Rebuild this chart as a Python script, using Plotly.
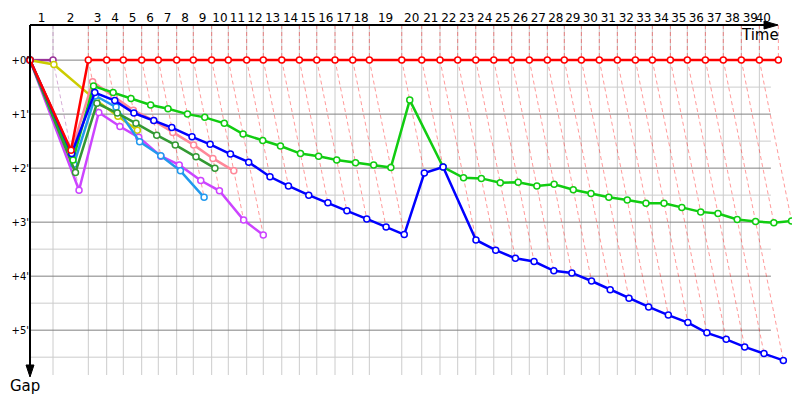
import plotly.graph_objects as go

# elapsed time (min) of the leader at the end of each lap, lap 0 .. 40
leader_time = [0, 2.13, 5.40, 7.10, 8.64, 10.34, 11.88, 13.58, 15.12, 16.82, 18.36,
               20.06, 21.60, 23.31, 24.94, 26.55, 28.24, 29.88, 31.42, 34.42, 36.27,
               37.96, 39.60, 41.27, 42.94, 44.60, 46.23, 47.90, 49.47, 51.05, 52.71,
               54.38, 56.05, 57.62, 59.29, 60.86, 62.53, 64.19, 65.86, 67.53, 69.29]
lap_labels = [str(i) for i in range(1, 41)]

# gap to the leader (min) at the end of each lap, starting at lap 0
gap_red = [0, 1.67] + [0] * 39
gap_purple = [0, 0]
gap_yellow = [0, 0.08, 0.75, 1.04, 1.30]
gap_magenta = [0, 2.41, 0.97, 1.23, 1.43, 1.78, 1.94, 2.23, 2.42, 2.96, 3.24]
gap_lightblue = [0, 1.93, 0.66, 0.87, 1.51, 1.77, 2.05, 2.54]
gap_darkgreen = [0, 2.08, 0.80, 0.98, 1.17, 1.39, 1.57, 1.79, 2.00]
gap_pink = [0, 1.70, 0.40, 0.68, 0.93, 1.12, 1.34, 1.57, 1.82, 2.05]
gap_green = [0, 1.85, 0.48, 0.60, 0.71, 0.83, 0.90, 1.00, 1.06, 1.17, 1.37,
             1.49, 1.59, 1.73, 1.78, 1.85, 1.90, 1.94, 1.99, 0.74, 1.98,
             2.18, 2.19, 2.27, 2.26, 2.33, 2.30, 2.40, 2.47, 2.54, 2.59,
             2.65, 2.65, 2.73, 2.81, 2.84, 2.95, 2.99, 3.01, 2.98]
gap_blue = [0, 1.73, 0.60, 0.75, 0.98, 1.12, 1.25, 1.42, 1.56, 1.74, 1.89,
            2.16, 2.33, 2.50, 2.64, 2.79, 2.94, 3.09, 3.23, 2.09, 1.98,
            3.33, 3.52, 3.67, 3.73, 3.90, 3.94, 4.09, 4.25, 4.41, 4.57,
            4.72, 4.86, 5.05, 5.17, 5.31, 5.43, 5.56]

gap_ticks = [0, 1, 2, 3, 4, 5]
gap_tick_text = ["+0'", "+1'", "+2'", "+3'", "+4'", "+5'"]

series = [
    (gap_purple, "#993399"),
    (gap_yellow, "#cccc00"),
    (gap_magenta, "#cc44ff"),
    (gap_lightblue, "#2299ee"),
    (gap_darkgreen, "#339933"),
    (gap_pink, "#ff8899"),
    (gap_green, "#11cc11"),
    (gap_blue, "#0000ff"),
    (gap_red, "#ff0000"),
]

Y_TOP, Y_BOT = -0.65, 5.83
X_MAX = 70.83
GRID_END = 68.6


def faded(hex_color, a=0.4):
    h = hex_color.lstrip("#")
    r, g, b = int(h[0:2], 16), int(h[2:4], 16), int(h[4:6], 16)
    return f"rgba({r},{g},{b},{a})"


fig = go.Figure()

# lap lines: vertical above the leader, then through every rider crossing that lap
lap_lines = {}
for n in range(1, len(leader_time)):
    done = [(g, c) for g, c in series if len(g) > n]
    lead_color = next(c for g, c in done if g[n] == 0)
    gmax = max(g[n] for g, c in done)
    xs, ys = lap_lines.setdefault(lead_color, ([], []))
    xs += [leader_time[n], leader_time[n], leader_time[n] + gmax, None]
    ys += [Y_TOP, 0, gmax, None]

for color, (xs, ys) in lap_lines.items():
    fig.add_trace(go.Scatter(x=xs, y=ys, mode="lines", hoverinfo="skip",
                             line=dict(color=faded(color), width=1, dash="4px,3px")))

for gaps, color in series:
    xs = [leader_time[i] + g for i, g in enumerate(gaps)]
    fig.add_trace(go.Scatter(
        x=xs, y=gaps, mode="lines+markers",
        line=dict(color=color, width=2.5),
        marker=dict(symbol="circle", size=6, color="white",
                    line=dict(color=color, width=1.5)),
        cliponaxis=False,
    ))

shapes = []
for t in leader_time[1:]:
    if t < GRID_END:
        shapes.append(dict(type="line", xref="x", yref="y", x0=t, x1=t, y0=Y_TOP, y1=Y_BOT,
                           line=dict(color="#cccccc", width=1), layer="below"))
for k in range(12):
    v = k * 0.5
    shapes.append(dict(type="line", xref="x", yref="y", x0=0, x1=GRID_END, y0=v, y1=v,
                       line=dict(color="#808080" if k % 2 == 0 else "#cccccc", width=1),
                       layer="below"))

# axes with arrows (paper coords, plot area is 765 x 350 px)
shapes += [
    dict(type="line", xref="paper", yref="paper", x0=0, x1=0.962, y0=1, y1=1,
         line=dict(color="black", width=2)),
    dict(type="path", xref="paper", yref="paper",
         path="M 0.9595,1.0114 L 0.9778,1 L 0.9595,0.9886 Z",
         fillcolor="black", line=dict(color="black", width=1)),
    dict(type="line", xref="paper", yref="paper", x0=0, x1=0, y0=1, y1=0.027,
         line=dict(color="black", width=2)),
    dict(type="path", xref="paper", yref="paper",
         path="M -0.0052,0.0286 L 0,-0.0057 L 0.0052,0.0286 Z",
         fillcolor="black", line=dict(color="black", width=1)),
]

label_pos = [(leader_time[i] + leader_time[i + 1]) / 2 for i in range(len(leader_time) - 1)]
label_pos[-1] = min(label_pos[-1], GRID_END - 0.7)

# page body keeps an 8px margin, so the figure is 792x392 and shifted margins
fig.update_layout(
    width=792, height=392,
    margin=dict(l=22, r=5, t=17, b=25, autoexpand=False),
    plot_bgcolor="white", paper_bgcolor="white",
    showlegend=False,
    shapes=shapes,
    font=dict(family="DejaVu Sans", color="black"),
    xaxis=dict(range=[0, X_MAX], side="top", tickvals=label_pos, ticktext=lap_labels,
               showgrid=False, zeroline=False, showline=False, ticks="",
               tickfont=dict(size=12), tickangle=0, automargin=False),
    yaxis=dict(range=[Y_BOT, Y_TOP], tickvals=gap_ticks, ticktext=gap_tick_text,
               showgrid=False, zeroline=False, showline=False, ticks="",
               tickfont=dict(size=10), automargin=False),
    annotations=[
        dict(text="Time", xref="paper", yref="paper", x=0.954, y=0.971,
             xanchor="center", yanchor="middle", showarrow=False, font=dict(size=15)),
        dict(text="Gap", xref="paper", yref="paper", x=-0.007, y=-0.03,
             xanchor="center", yanchor="middle", showarrow=False, font=dict(size=15)),
    ],
)

fig.write_html("out.html")
